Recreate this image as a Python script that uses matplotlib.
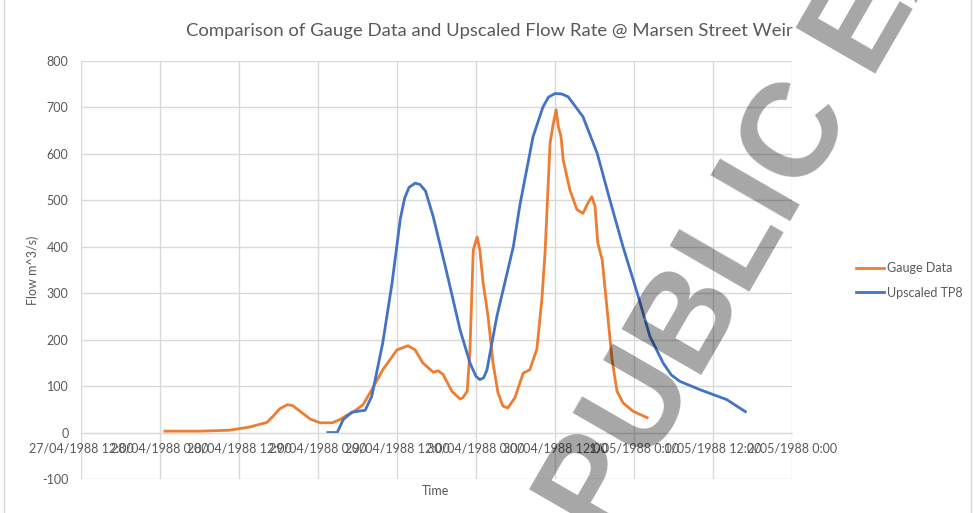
import pandas as pd
import matplotlib.pyplot as plt
import matplotlib.dates as mdates
from matplotlib.ticker import FuncFormatter, MultipleLocator
from matplotlib.patches import Rectangle

# gauge readings (time, flow m^3/s)
gauge_time = [
    "1988-04-28 00:45", "1988-04-28 06:00", "1988-04-28 10:30", "1988-04-28 13:40",
    "1988-04-28 16:15", "1988-04-28 17:10", "1988-04-28 18:10", "1988-04-28 19:20",
    "1988-04-28 20:10", "1988-04-28 21:15", "1988-04-28 22:50", "1988-04-29 00:20",
    "1988-04-29 02:10", "1988-04-29 03:20", "1988-04-29 04:35", "1988-04-29 05:20",
    "1988-04-29 06:50", "1988-04-29 08:10", "1988-04-29 09:50", "1988-04-29 12:00",
    "1988-04-29 13:40", "1988-04-29 14:45", "1988-04-29 15:55", "1988-04-29 17:30",
    "1988-04-29 18:15", "1988-04-29 19:00", "1988-04-29 20:20", "1988-04-29 21:35",
    "1988-04-29 22:00", "1988-04-29 22:40", "1988-04-29 23:05", "1988-04-29 23:35",
    "1988-04-30 00:10", "1988-04-30 00:35", "1988-04-30 01:05", "1988-04-30 01:50",
    "1988-04-30 02:35", "1988-04-30 03:20", "1988-04-30 04:05", "1988-04-30 04:50",
    "1988-04-30 05:55", "1988-04-30 07:10", "1988-04-30 08:10", "1988-04-30 09:15",
    "1988-04-30 10:00", "1988-04-30 10:30", "1988-04-30 11:15", "1988-04-30 11:40",
    "1988-04-30 12:10", "1988-04-30 12:30", "1988-04-30 12:55", "1988-04-30 13:15",
    "1988-04-30 14:15", "1988-04-30 15:20", "1988-04-30 16:15", "1988-04-30 17:00",
    "1988-04-30 17:35", "1988-04-30 18:05", "1988-04-30 18:30", "1988-04-30 19:10",
    "1988-04-30 19:55", "1988-04-30 20:40", "1988-04-30 21:25", "1988-04-30 22:20",
    "1988-04-30 23:50", "1988-05-01 02:00",
]
gauge_flow = [
    3, 3, 5, 12,
    22, 35, 51, 60,
    58, 46, 29, 21,
    21, 28, 39, 44,
    60, 92, 135, 178,
    187, 178, 150, 130,
    133, 125, 89, 72,
    75, 89, 178, 393,
    421, 393, 322, 250,
    150, 86, 57, 53,
    75, 128, 135, 180,
    286, 390, 623, 659,
    695, 659, 637, 587,
    523, 480, 472, 494,
    508, 487, 408, 372,
    265, 157, 89, 64,
    46, 32,
]

# upscaled TP8 model flows
tp8_time = [
    "1988-04-29 01:30", "1988-04-29 02:55", "1988-04-29 03:50", "1988-04-29 05:10",
    "1988-04-29 07:10", "1988-04-29 08:10", "1988-04-29 09:50", "1988-04-29 11:15",
    "1988-04-29 12:30", "1988-04-29 13:10", "1988-04-29 13:50", "1988-04-29 14:45",
    "1988-04-29 15:30", "1988-04-29 16:20", "1988-04-29 17:30", "1988-04-29 19:35",
    "1988-04-29 21:35", "1988-04-29 23:05", "1988-04-30 00:00", "1988-04-30 00:35",
    "1988-04-30 01:10", "1988-04-30 01:40", "1988-04-30 03:10", "1988-04-30 05:40",
    "1988-04-30 06:40", "1988-04-30 08:40", "1988-04-30 10:10", "1988-04-30 11:00",
    "1988-04-30 12:00", "1988-04-30 13:00", "1988-04-30 14:00", "1988-04-30 16:15",
    "1988-04-30 18:25", "1988-04-30 20:20", "1988-04-30 22:20", "1988-05-01 00:30",
    "1988-05-01 02:25", "1988-05-01 04:25", "1988-05-01 05:40", "1988-05-01 07:00",
    "1988-05-01 10:05", "1988-05-01 14:05", "1988-05-01 16:55",
]
tp8_flow = [
    0, 0, 28, 44,
    48, 78, 193, 322,
    460, 505, 528, 537,
    534, 520, 465, 343,
    221, 150, 121, 114,
    118, 135, 250, 400,
    490, 637, 701, 722,
    730, 729, 723, 680,
    601, 501, 400, 300,
    207, 150, 124, 110,
    92, 71, 45,
]

grey = "#595959"
plt.rcParams['font.family'] = ['Lato', 'DejaVu Sans']
plt.rcParams['axes.unicode_minus'] = False

fig = plt.figure(figsize=(9.73, 5.13), dpi=100)
ax = fig.add_axes([81/973, 1 - 479/513, (792 - 81)/973, (479 - 61)/513])

ax.plot(pd.to_datetime(gauge_time), gauge_flow, color="#ED7D31", lw=2,
        solid_joinstyle="round", label="Gauge Data")
ax.plot(pd.to_datetime(tp8_time), tp8_flow, color="#4472C4", lw=2,
        solid_joinstyle="round", label="Upscaled TP8")

ax.set_xlim(pd.Timestamp("1988-04-27 12:00"), pd.Timestamp("1988-05-02 00:00"))
ax.set_ylim(-100, 800)
ax.yaxis.set_major_locator(MultipleLocator(100))
ax.xaxis.set_major_locator(mdates.HourLocator(byhour=[0, 12]))


def fmt_date(x, pos):
    d = mdates.num2date(x)
    return f"{d.day}/{d.month:02d}/{d.year} {d.hour}:{d.minute:02d}"


ax.xaxis.set_major_formatter(FuncFormatter(fmt_date))

ax.grid(color="#d9d9d9", lw=1)
ax.set_axisbelow(True)
for s in ["top", "right", "left"]:
    ax.spines[s].set_visible(False)
ax.spines["bottom"].set_position(("data", 0))
ax.spines["bottom"].set_color("#d9d9d9")
ax.tick_params(axis="both", length=0, labelsize=9, labelcolor=grey)
ax.tick_params(axis="y", pad=9)
ax.tick_params(axis="x", pad=7)

fig.text(489/973, 1 - 31/513, "Comparison of Gauge Data and Upscaled Flow Rate @ Marsen Street Weir",
         ha="center", va="center", fontsize=13.3, color=grey)
fig.text(436/973, 1 - 491/513, "Time", ha="center", va="center", fontsize=9, color=grey)
fig.text(33/973, 1 - 270/513, "Flow m^3/s)", ha="center", va="center", rotation=90,
         fontsize=9, color=grey)

fig.legend(loc="center left", bbox_to_anchor=(856/973, 1 - 280.5/513), frameon=False,
           fontsize=9, labelcolor=grey, handlelength=2.2, handletextpad=0.3,
           labelspacing=1.0, borderpad=0, borderaxespad=0)

# chart area border
fig.patches.append(Rectangle((4/973, -10/513), 967/973, 526/513, transform=fig.transFigure,
                             fill=False, edgecolor="#d9d9d9", lw=1))

# watermark
fig.text(0.622, -0.057, "PUBLIC EXHIBIT", rotation=60, rotation_mode="anchor",
         ha="left", va="baseline", fontsize=96, family="Liberation Sans",
         weight="bold", color="black", alpha=0.35, zorder=10)

fig.savefig("out.png", dpi=100)
